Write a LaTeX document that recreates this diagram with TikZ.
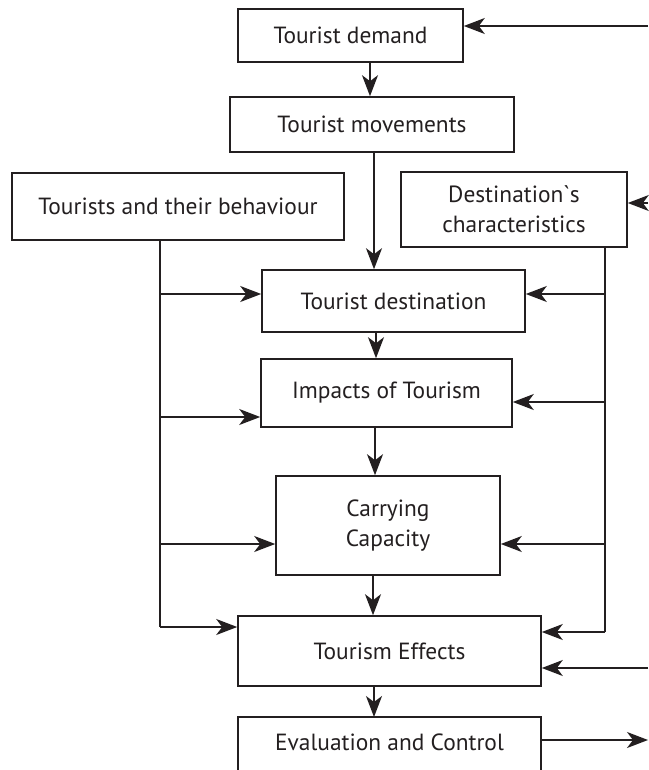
\documentclass[tikz,border=0pt]{standalone}
\usepackage{fontspec}
\setmainfont{PT Sans}
\usetikzlibrary{arrows.meta}
\definecolor{ink}{HTML}{231F20}
\begin{document}
\begin{tikzpicture}[x=1pt,y=-1pt,
  box/.style={draw=ink, line width=1.6pt, inner sep=0pt, align=center,
    font=\fontsize{23.4}{30}\selectfont, text=ink},
  conn/.style={draw=ink, line width=1.5pt},
  arr/.style={conn, -{Stealth[length=21pt,width=16pt,inset=6pt]}}]
\useasboundingbox (0,0) rectangle (648,770);
\node[box, minimum width=225pt, minimum height=53pt] (demand) at (350.5,35.5) {Tourist demand};
\node[box, minimum width=284pt, minimum height=55pt] (move) at (372,124.5) {Tourist movements};
\node[box, minimum width=332pt, minimum height=67pt] (behav) at (178,206.5) {Tourists and their behaviour};
\node[box, minimum width=226pt, minimum height=75pt] (chars) at (514,209.5) {Destination\textasciigrave s\\characteristics};
\node[box, minimum width=263pt, minimum height=62pt] (dest) at (393.5,301) {Tourist destination};
\node[box, minimum width=251pt, minimum height=68pt] (imp) at (386.5,393) {Impacts of Tourism};
\node[box, minimum width=224pt, minimum height=99pt] (carry) at (388,525.5) {Carrying\\Capacity};
\node[box, minimum width=303pt, minimum height=70pt] (eff) at (389.5,651) {Tourism Effects};
\node[box, draw=none] (eval) at (389.5,742) {Evaluation and Control};
\draw[line width=1.6pt, draw=ink] (238,772) |- (541,717) -- (541,772);
% coordinates
\coordinate (inDemand) at (648,26);
\coordinate (inChars) at (648,203);
\coordinate (inEff) at (648,668);
\coordinate (outEval) at (648,740);
\coordinate (evalTop) at (374,717);
\coordinate (evalRight) at (541,740);
\coordinate (L1) at (160,294);
\coordinate (L2) at (160,417);
\coordinate (L3) at (160,544);
\coordinate (L4) at (160,627);
\coordinate (R1) at (605,294);
\coordinate (R2) at (605,402);
\coordinate (R3) at (605,544);
\coordinate (R4) at (605,632);
% main chain
\draw[arr] (inDemand) -- (inDemand -| demand.east);
\draw[arr] (370,0 |- demand.south) -- (370,0 |- move.north);
\draw[arr] (374,0 |- move.south) -- (374,0 |- dest.north);
\draw[arr] (inChars) -- (inChars -| chars.east);
\draw[arr] (376,0 |- dest.south) -- (376,0 |- imp.north);
\draw[arr] (375,0 |- imp.south) -- (375,0 |- carry.north);
\draw[arr] (373,0 |- carry.south) -- (373,0 |- eff.north);
\draw[arr] (374,0 |- eff.south) -- (evalTop);
\draw[arr] (evalRight) -- (outEval);
\draw[arr] (inEff) -- (inEff -| eff.east);
% left bus
\draw[conn] (L1 |- behav.south) -- (L4);
\draw[arr] (L1) -- (L1 -| dest.west);
\draw[arr] (L2) -- (L2 -| imp.west);
\draw[arr] (L3) -- (L3 -| carry.west);
\draw[arr] (L4) -- (L4 -| eff.west);
% right bus
\draw[conn] (R1 |- chars.south) -- (R4);
\draw[arr] (R1) -- (R1 -| dest.east);
\draw[arr] (R2) -- (R2 -| imp.east);
\draw[arr] (R3) -- (R3 -| carry.east);
\draw[arr] (R4) -- (R4 -| eff.east);
\end{tikzpicture}
\end{document}
